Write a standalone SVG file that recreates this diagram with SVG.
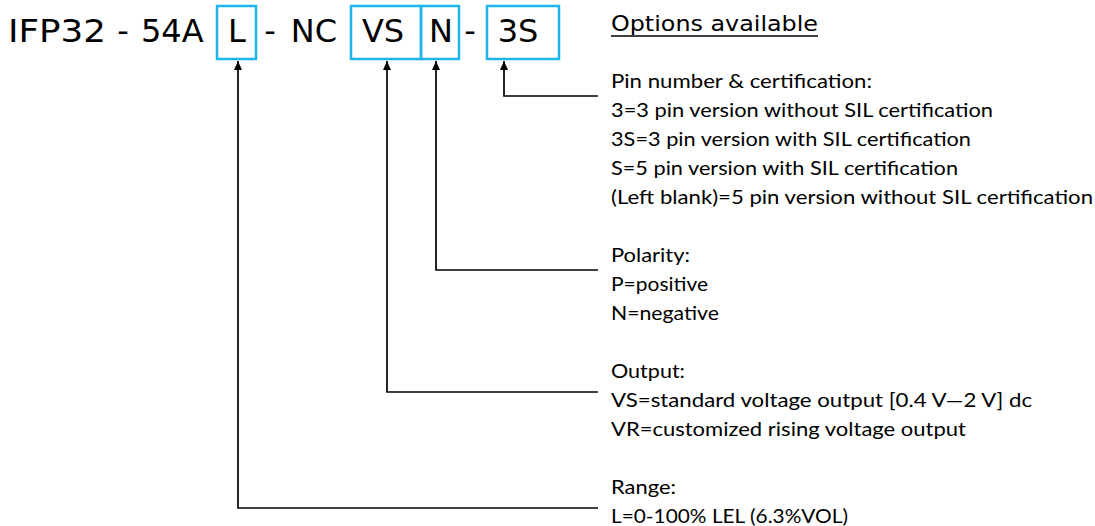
<svg xmlns="http://www.w3.org/2000/svg" width="1095" height="526" viewBox="0 0 1095 526">
<defs>
<style>
.title{font-family:"DejaVu Sans",Verdana,sans-serif;font-size:32px;fill:#000}
.hdr{font-family:"DejaVu Sans",Verdana,sans-serif;font-size:22px;fill:#000}
.body{font-family:Lato,"Open Sans",sans-serif;font-size:20px;fill:#000}
.box{fill:none;stroke:#1eb4ec;stroke-width:2.5}
.conn{fill:none;stroke:#000;stroke-width:1.7}
</style>
<marker id="arr" markerUnits="userSpaceOnUse" markerWidth="10" markerHeight="10" refX="9" refY="4" orient="auto">
<path d="M0,0 L9,4 L0,8 Z" fill="#000"/>
</marker>
</defs>
<rect width="1095" height="526" fill="#fff"/>
<g id="code">
<text class="title" x="8" y="42" textLength="98" lengthAdjust="spacingAndGlyphs">IFP32</text>
<text class="title" x="123" y="42" text-anchor="middle">-</text>
<text class="title" x="141" y="42">54A</text>
<text class="title" x="270" y="42" text-anchor="middle">-</text>
<text class="title" x="314" y="42" text-anchor="middle">NC</text>
<text class="title" x="470" y="42" text-anchor="middle">-</text>
</g>
<g id="node-L">
<rect class="box" x="217" y="6" width="39" height="53"/>
<text class="title" x="237" y="42" text-anchor="middle">L</text>
</g>
<g id="node-VS">
<rect class="box" x="351" y="6" width="70" height="53"/>
<text class="title" x="383" y="42" text-anchor="middle">VS</text>
</g>
<g id="node-N">
<rect class="box" x="421" y="6" width="38" height="53"/>
<text class="title" x="441" y="42" text-anchor="middle">N</text>
</g>
<g id="node-3S">
<rect class="box" x="487" y="6" width="72" height="53"/>
<text class="title" x="518" y="42" text-anchor="middle">3S</text>
</g>
<g id="heading">
<text class="hdr" x="611" y="31" textLength="207" lengthAdjust="spacingAndGlyphs">Options available</text>
<line x1="611" y1="36" x2="818" y2="36" stroke="#000" stroke-width="1.5"/>
</g>
<g id="connectors">
<polyline class="conn" points="598,96 504,96 504,61" marker-end="url(#arr)"/>
<polyline class="conn" points="598,270 436,270 436,61" marker-end="url(#arr)"/>
<polyline class="conn" points="598,392 387,392 387,61" marker-end="url(#arr)"/>
<polyline class="conn" points="598,508 238,508 238,61" marker-end="url(#arr)"/>
</g>
<g id="opt-pin">
<text class="body" x="611" y="88" textLength="261" lengthAdjust="spacingAndGlyphs">Pin number &amp; certification:</text>
<text class="body" x="611" y="117" textLength="382" lengthAdjust="spacingAndGlyphs">3=3 pin version without SIL certification</text>
<text class="body" x="611" y="146" textLength="360" lengthAdjust="spacingAndGlyphs">3S=3 pin version with SIL certification</text>
<text class="body" x="611" y="175" textLength="347" lengthAdjust="spacingAndGlyphs">S=5 pin version with SIL certification</text>
<text class="body" x="611" y="204" textLength="482" lengthAdjust="spacingAndGlyphs">(Left blank)=5 pin version without SIL certification</text>
</g>
<g id="opt-polarity">
<text class="body" x="611" y="262" textLength="79" lengthAdjust="spacingAndGlyphs">Polarity:</text>
<text class="body" x="611" y="291" textLength="97" lengthAdjust="spacingAndGlyphs">P=positive</text>
<text class="body" x="611" y="320" textLength="108" lengthAdjust="spacingAndGlyphs">N=negative</text>
</g>
<g id="opt-output">
<text class="body" x="611" y="378" textLength="74" lengthAdjust="spacingAndGlyphs">Output:</text>
<text class="body" x="611" y="407" textLength="421" lengthAdjust="spacingAndGlyphs">VS=standard voltage output [0.4 V—2 V] dc</text>
<text class="body" x="611" y="436" textLength="355" lengthAdjust="spacingAndGlyphs">VR=customized rising voltage output</text>
</g>
<g id="opt-range">
<text class="body" x="611" y="494" textLength="65" lengthAdjust="spacingAndGlyphs">Range:</text>
<text class="body" x="611" y="523" textLength="237" lengthAdjust="spacingAndGlyphs">L=0-100% LEL (6.3%VOL)</text>
</g>
</svg>
